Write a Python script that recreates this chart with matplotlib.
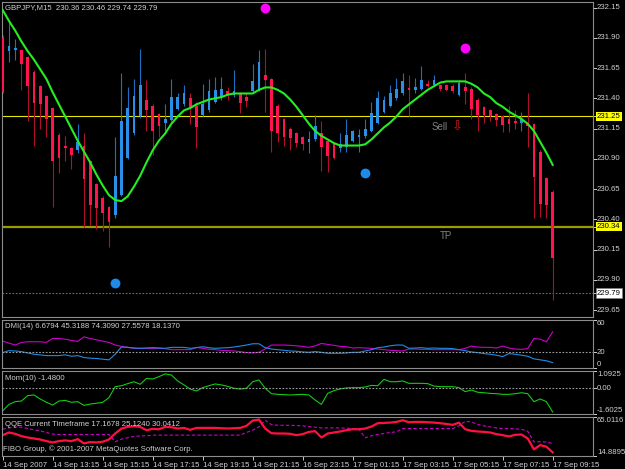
import matplotlib
matplotlib.use("Agg")
import matplotlib.pyplot as plt
import numpy as np

plt.rcParams["font.family"] = ["Liberation Sans", "DejaVu Sans"]

# ---- GBPJPY M15 candles (89 bars) ----
opens = [231.90, 231.79, 231.80, 231.80, 231.74, 231.62, 231.50, 231.42, 231.32, 231.10,
         231.01, 230.99, 230.97, 231.01, 230.88, 230.69, 230.58, 230.50, 230.44, 230.60,
         230.91, 231.11, 231.25, 231.39, 231.34, 231.27, 231.20, 231.22, 231.31, 231.35,
         231.40, 231.34, 231.26, 231.30, 231.37, 231.41, 231.46, 231.43, 231.44, 231.41,
         231.46, 231.47, 231.59, 231.56, 231.34, 231.23, 231.15, 231.11, 231.08, 231.04,
         231.06, 231.11, 231.05, 231.02, 230.99, 231.00, 231.05, 231.08, 231.09, 231.13,
         231.20, 231.29, 231.34, 231.40, 231.44, 231.48, 231.47, 231.48, 231.52, 231.51,
         231.51, 231.51, 231.50, 231.43, 231.49, 231.48, 231.39, 231.33, 231.30, 231.27,
         231.25, 231.23, 231.21, 231.20, 231.19, 231.19, 230.96, 230.74, 230.63]
highs = [231.92, 232.03, 231.89, 231.81, 231.75, 231.63, 231.51, 231.43, 231.33, 231.11,
         231.09, 231.00, 231.19, 231.11, 230.89, 230.70, 230.59, 230.51, 231.08, 231.61,
         231.49, 231.56, 231.81, 231.55, 231.35, 231.28, 231.35, 231.56, 231.44, 231.51,
         231.44, 231.37, 231.52, 231.56, 231.58, 231.58, 231.49, 231.63, 231.45, 231.44,
         231.68, 231.80, 231.81, 231.57, 231.35, 231.24, 231.16, 231.12, 231.09, 231.13,
         231.26, 231.21, 231.06, 231.03, 231.11, 231.23, 231.14, 231.15, 231.23, 231.37,
         231.46, 231.42, 231.51, 231.57, 231.61, 231.59, 231.57, 231.67, 231.55, 231.59,
         231.52, 231.52, 231.52, 231.55, 231.61, 231.49, 231.40, 231.34, 231.31, 231.28,
         231.26, 231.34, 231.30, 231.29, 231.44, 231.20, 230.97, 230.75, 230.64]
lows = [231.44, 231.70, 231.72, 231.47, 231.21, 231.01, 231.15, 231.08, 230.50, 230.78,
        230.88, 230.82, 230.95, 230.34, 230.35, 230.32, 230.30, 230.17, 230.41, 230.59,
        230.90, 231.10, 231.24, 231.13, 230.93, 231.08, 231.13, 231.21, 231.30, 231.34,
        231.19, 230.99, 231.25, 231.29, 231.36, 231.39, 231.39, 231.41, 231.28, 231.33,
        231.45, 231.46, 231.29, 230.96, 231.04, 231.01, 230.97, 231.00, 230.97, 230.95,
        231.05, 230.80, 230.79, 230.90, 230.96, 230.96, 231.04, 230.96, 231.07, 231.12,
        231.19, 231.28, 231.33, 231.39, 231.43, 231.25, 231.44, 231.47, 231.49, 231.50,
        231.46, 231.46, 231.44, 231.42, 231.35, 231.23, 231.13, 231.20, 231.21, 231.17,
        231.12, 231.12, 231.15, 231.13, 231.00, 230.41, 230.42, 230.41, 229.73]
closes = [231.45, 231.83, 231.81, 231.68, 231.50, 231.36, 231.35, 231.23, 230.88, 230.91,
          230.99, 230.93, 231.04, 230.73, 230.52, 230.49, 230.45, 230.38, 230.76, 231.21,
          231.32, 231.42, 231.51, 231.30, 231.13, 231.17, 231.23, 231.41, 231.41, 231.44,
          231.33, 231.16, 231.35, 231.46, 231.47, 231.48, 231.43, 231.46, 231.36, 231.38,
          231.54, 231.70, 231.55, 231.13, 231.11, 231.08, 231.07, 231.03, 231.02, 231.06,
          231.17, 231.00, 230.92, 230.91, 231.02, 231.10, 231.13, 231.10, 231.15, 231.28,
          231.40, 231.39, 231.44, 231.48, 231.54, 231.47, 231.49, 231.55, 231.50, 231.55,
          231.48, 231.47, 231.46, 231.53, 231.46, 231.31, 231.26, 231.26, 231.25, 231.22,
          231.18, 231.19, 231.20, 231.23, 231.17, 230.75, 230.53, 230.52, 230.08]

# smooth moving average (green)
ma = [232.13, 232.04, 231.96, 231.87, 231.79, 231.72, 231.64, 231.56, 231.45, 231.35,
      231.25, 231.15, 231.05, 230.96, 230.87, 230.77, 230.68, 230.60, 230.56, 230.55,
      230.59, 230.67, 230.76, 230.87, 230.97, 231.05, 231.11, 231.19, 231.25, 231.30,
      231.32, 231.35, 231.37, 231.39, 231.40, 231.41, 231.43, 231.44, 231.44, 231.44,
      231.44, 231.47, 231.49, 231.49, 231.47, 231.44, 231.39, 231.33, 231.26, 231.19,
      231.13, 231.09, 231.06, 231.03, 231.01, 231.01, 231.01, 231.01, 231.02, 231.06,
      231.11, 231.16, 231.20, 231.25, 231.31, 231.35, 231.39, 231.43, 231.47, 231.50,
      231.53, 231.54, 231.54, 231.54, 231.54, 231.52, 231.49, 231.44, 231.41, 231.36,
      231.33, 231.29, 231.26, 231.23, 231.19, 231.13, 231.04, 230.95, 230.85]

# signal dots
magenta_bars = [42, 74]
magenta_prices = [232.15, 231.82]
blue_bars = [18, 58]
blue_prices = [229.87, 230.78]

sl_price = 231.25
tp_price = 230.34
bid_price = 229.79

# ---- DMI(14) ----
dmi_plus = [33.6, 31.1, 28.7, 32.0, 32.8, 32.8, 32.8, 32.0, 36.9, 36.9,
            36.0, 34.4, 33.2, 38.9, 36.9, 35.2, 33.6, 32.0, 28.7, 27.0,
            25.8, 24.6, 24.6, 24.6, 24.6, 24.6, 24.2, 22.9, 22.9, 22.9,
            22.9, 25.8, 24.6, 23.3, 22.9, 22.1, 21.7, 21.3, 20.5, 19.2,
            18.8, 19.6, 23.7, 28.7, 28.7, 28.7, 28.3, 27.8, 27.0, 25.8,
            27.8, 30.7, 29.5, 28.3, 27.0, 26.6, 25.0, 25.4, 25.0, 24.6,
            23.7, 22.9, 22.1, 21.7, 21.3, 23.7, 23.7, 23.3, 23.3, 22.9,
            22.9, 22.9, 22.9, 22.9, 24.6, 27.4, 26.2, 25.8, 25.8, 25.0,
            27.4, 25.0, 23.7, 23.3, 24.2, 36.9, 36.0, 32.8, 45.3]
dmi_minus = [19.2, 21.7, 21.3, 20.5, 18.8, 17.2, 16.4, 15.5, 15.5, 15.5,
             16.4, 14.7, 15.5, 13.1, 12.3, 11.9, 11.0, 10.2, 17.2, 26.2,
             25.8, 25.0, 24.6, 25.0, 25.4, 25.0, 24.6, 25.8, 25.8, 25.8,
             24.6, 25.4, 26.6, 25.4, 24.6, 25.0, 25.4, 26.2, 27.4, 28.7,
             30.3, 30.3, 25.4, 23.7, 22.9, 22.1, 21.3, 20.9, 20.1, 19.6,
             20.5, 19.6, 18.4, 18.4, 18.4, 18.8, 19.6, 19.6, 21.3, 22.9,
             25.4, 26.2, 27.8, 28.7, 28.7, 24.6, 25.0, 25.4, 24.6, 25.0,
             24.6, 24.6, 24.2, 22.9, 21.7, 20.1, 19.2, 18.0, 17.2, 16.0,
             14.3, 18.0, 17.2, 16.0, 14.7, 11.4, 10.2, 9.0, 6.7]

# ---- Momentum(10) ----
mom = [-1.41, -1.00, -0.83, -0.79, -0.45, -0.41, -0.66, -0.87, -1.04, -0.79,
       -0.75, -0.87, -0.83, -1.06, -0.98, -0.93, -0.87, -0.58, 0.11, 0.17,
       0.30, 0.42, 0.26, 0.63, 0.59, 0.74, 0.91, 0.84, 0.47, 0.22,
       -0.04, -0.16, 0.05, 0.17, 0.28, 0.22, 0.13, 0.01, -0.04, 0.01,
       0.42, 0.53, 0.01, -0.33, -0.37, -0.39, -0.41, -0.39, -0.37, -0.41,
       -0.73, -1.00, -0.31, -0.14, -0.03, 0.03, 0.05, 0.05, 0.09, 0.19,
       0.17, 0.57, 0.42, 0.42, 0.47, 0.32, 0.32, 0.32, 0.30, 0.15,
       0.11, 0.11, 0.11, 0.05, -0.20, -0.10, -0.24, -0.27, -0.31, -0.33,
       -0.37, -0.37, -0.33, -0.27, -0.33, -0.83, -0.66, -0.83, -1.48]

# ---- QQE ----
qqe_rsi = [41.7, 45.1, 43.4, 40.4, 38.7, 37.4, 36.1, 34.0, 32.3, 34.0,
           34.9, 34.0, 36.6, 31.1, 32.8, 32.3, 33.2, 36.1, 43.8, 50.2,
           52.3, 53.2, 52.3, 48.1, 49.8, 49.3, 52.3, 51.9, 50.2, 51.0,
           48.5, 51.0, 51.0, 51.0, 51.0, 50.6, 50.2, 50.6, 51.0, 53.6,
           60.4, 61.7, 50.2, 44.2, 43.8, 43.8, 43.4, 41.7, 43.0, 45.9,
           46.8, 38.7, 43.8, 45.1, 46.4, 48.1, 49.3, 49.3, 50.2, 52.7,
           57.0, 57.4, 57.8, 58.7, 60.8, 58.3, 58.7, 58.7, 58.3, 57.8,
           57.0, 56.1, 54.9, 57.8, 49.3, 47.2, 46.4, 45.9, 45.1, 43.0,
           41.7, 40.0, 42.1, 42.5, 37.4, 23.4, 28.9, 26.8, 19.5]
qqe_trail = [49.3, 51.0, 52.3, 51.9, 50.2, 48.5, 47.2, 45.1, 43.0, 42.5,
             42.5, 42.5, 42.5, 42.5, 42.5, 42.5, 42.5, 42.5, 33.2, 36.6,
             38.3, 40.0, 40.8, 40.8, 41.7, 41.7, 41.7, 41.7, 41.7, 41.7,
             41.7, 41.7, 41.7, 41.7, 41.7, 41.7, 41.7, 41.7, 41.7, 45.1,
             48.1, 52.3, 60.8, 55.3, 54.4, 54.4, 54.4, 54.0, 53.6, 52.7,
             51.9, 51.0, 51.0, 51.0, 51.0, 50.6, 50.2, 49.3, 38.3, 40.8,
             42.5, 43.8, 45.1, 45.9, 50.2, 50.2, 50.2, 50.2, 50.2, 50.2,
             50.2, 50.2, 50.2, 53.6, 59.5, 58.7, 55.3, 53.6, 52.3, 51.0,
             50.2, 50.2, 49.8, 49.3, 46.8, 33.2, 33.2, 32.8, 31.1]

time_ticks = [0, 8, 16, 24, 32, 40, 48, 56, 64, 72, 80, 88]
time_labels = ["14 Sep 2007", "14 Sep 13:15", "14 Sep 15:15", "14 Sep 17:15",
               "14 Sep 19:15", "14 Sep 21:15", "16 Sep 23:15", "17 Sep 01:15",
               "17 Sep 03:15", "17 Sep 05:15", "17 Sep 07:15", "17 Sep 09:15"]
price_ticks = [232.15, 231.90, 231.65, 231.40, 231.15, 230.90, 230.65, 230.40,
               230.15, 229.90, 229.65]

W, H = 625, 469
FS = 5.6
FG = "#d0d0d0"
BORDER = "#8c8c8c"


def panel(fig, top, bottom):
    ax = fig.add_axes([2 / W, 1 - bottom / H, 591 / W, (bottom - top) / H])
    ax.set_facecolor("black")
    for s in ax.spines.values():
        s.set_color(BORDER)
        s.set_linewidth(0.8)
    ax.set_xlim(-0.11, 94.45)
    ax.set_xticks([])
    ax.set_yticks([])
    return ax


def side_label(ax, y, text, va="center", **box):
    tr = ax.get_yaxis_transform()
    ax.plot([1, 1 + 3 / 591], [y, y], transform=tr, color=FG, lw=0.7, clip_on=False)
    color = "black" if box else FG
    ax.text(1 + 4 / 591, y, text, transform=tr, color=color, fontsize=FS,
            va=va, ha="left", clip_on=False,
            bbox=dict(boxstyle="square,pad=0.15", **box) if box else None)


fig = plt.figure(figsize=(W / 100, H / 100), dpi=100, facecolor="black")

# ---------------- main price panel ----------------
ax = panel(fig, 2, 317)
ax.set_ylim(229.593, 232.196)
x = np.arange(len(opens))
o = np.array(opens)
c = np.array(closes)
up = c >= o
body_col = np.where(up, "#2a8fe6", "#ff1450")
wick_col = np.where(up, "#1f6fc0", "#b0102c")
ax.vlines(x, lows, highs, colors=wick_col, lw=0.8, zorder=2)
ax.bar(x, np.maximum(np.abs(c - o), 0.012), bottom=np.minimum(o, c), width=0.45,
       color=body_col, zorder=3)
ax.plot(x, ma, color="#22ee22", lw=1.5, zorder=4)

ax.axhline(sl_price, color="#e6e600", lw=0.8, zorder=1)
ax.axhline(tp_price, color="#9c9c00", lw=1.6, zorder=1)
ax.axhline(bid_price, color="#5d6f88", lw=0.8, ls=(0, (1.5, 1.5)), zorder=1)

ax.scatter(magenta_bars, magenta_prices, s=50, color="#ff00ff", zorder=5, lw=0)
ax.scatter(blue_bars, blue_prices, s=50, color="#1e8ce6", zorder=5, lw=0)

ax.text(68.6, 231.16, "Sell", color="#808080", fontsize=7, va="center", ha="left")
ax.text(71.9, 231.165, "\u21e9", color="#cc1a1a", fontsize=9.5, va="center", ha="left",
        family="DejaVu Sans")
ax.text(70.0, 230.26, "TP", color="#808080", fontsize=7, va="center", ha="left")

ax.text(3 / 591, 1 - 6 / 315, "GBPJPY,M15  230.36 230.46 229.74 229.79",
        transform=ax.transAxes, color=FG, fontsize=FS, va="center", ha="left")

for p in price_ticks:
    side_label(ax, p, f"{p:.2f}")
side_label(ax, sl_price, f"{sl_price:.2f}", fc="#ffff00", ec="none")
side_label(ax, tp_price, f"{tp_price:.2f}", fc="#ffff00", ec="none")
side_label(ax, bid_price, f"{bid_price:.2f}", fc="white", ec="#808080", lw=0.5)

# ---------------- DMI ----------------
ax = panel(fig, 320, 368)
ax.set_ylim(0, 60)
ax.plot(x, dmi_plus, color="#cc00cc", lw=0.8)
ax.plot(x, dmi_minus, color="#1e8ce6", lw=0.8)
ax.axhline(20, color="#a0a0a0", lw=0.8, ls=(0, (1.5, 1.5)))
ax.text(3 / 591, 1 - 7 / 48, "DMI(14) 6.6794 45.3188 74.3090 27.5578 18.1370",
        transform=ax.transAxes, color=FG, fontsize=FS, va="center", ha="left")
side_label(ax, 60, "60", va="top")
side_label(ax, 20, "20")
side_label(ax, 0, "0", va="bottom")

# ---------------- Momentum ----------------
ax = panel(fig, 371, 414)
ax.set_ylim(-1.6025, 1.0925)
ax.plot(x, mom, color="#11cc11", lw=0.8)
ax.axhline(0, color="#a0a0a0", lw=0.8, ls=(0, (1.5, 1.5)))
ax.text(3 / 591, 1 - 7 / 43, "Mom(10) -1.4800",
        transform=ax.transAxes, color=FG, fontsize=FS, va="center", ha="left")
side_label(ax, 1.0925, "1.0925", va="top")
side_label(ax, 0, "0.00")
side_label(ax, -1.6025, "-1.6025", va="bottom")

# ---------------- QQE ----------------
ax = panel(fig, 417, 456)
ax.set_ylim(14.8895, 65.0116)
ax.plot(x, qqe_trail, color="#cc00cc", lw=0.8, ls=(0, (3, 2)))
ax.plot(x, qqe_rsi, color="#ff1040", lw=1.6)
ax.text(3 / 591, 1 - 7 / 39, "QQE Current Timeframe 17.1678 25.1240 30.0412",
        transform=ax.transAxes, color=FG, fontsize=FS, va="center", ha="left")
ax.text(1 / 591, 1 - 32 / 39, "FIBO Group, \u00a9 2001-2007 MetaQuotes Software Corp.",
        transform=ax.transAxes, color=FG, fontsize=FS, va="center", ha="left")
side_label(ax, 65.0116, "65.0116", va="top")
side_label(ax, 14.8895, "14.8895", va="bottom")

ax.set_xticks(time_ticks)
ax.set_xticklabels(time_labels, ha="left")
ax.tick_params(axis="x", colors=FG, labelsize=FS, length=3, width=0.7, pad=1.5,
               direction="out")

fig.savefig("out.png", dpi=100, facecolor="black")
